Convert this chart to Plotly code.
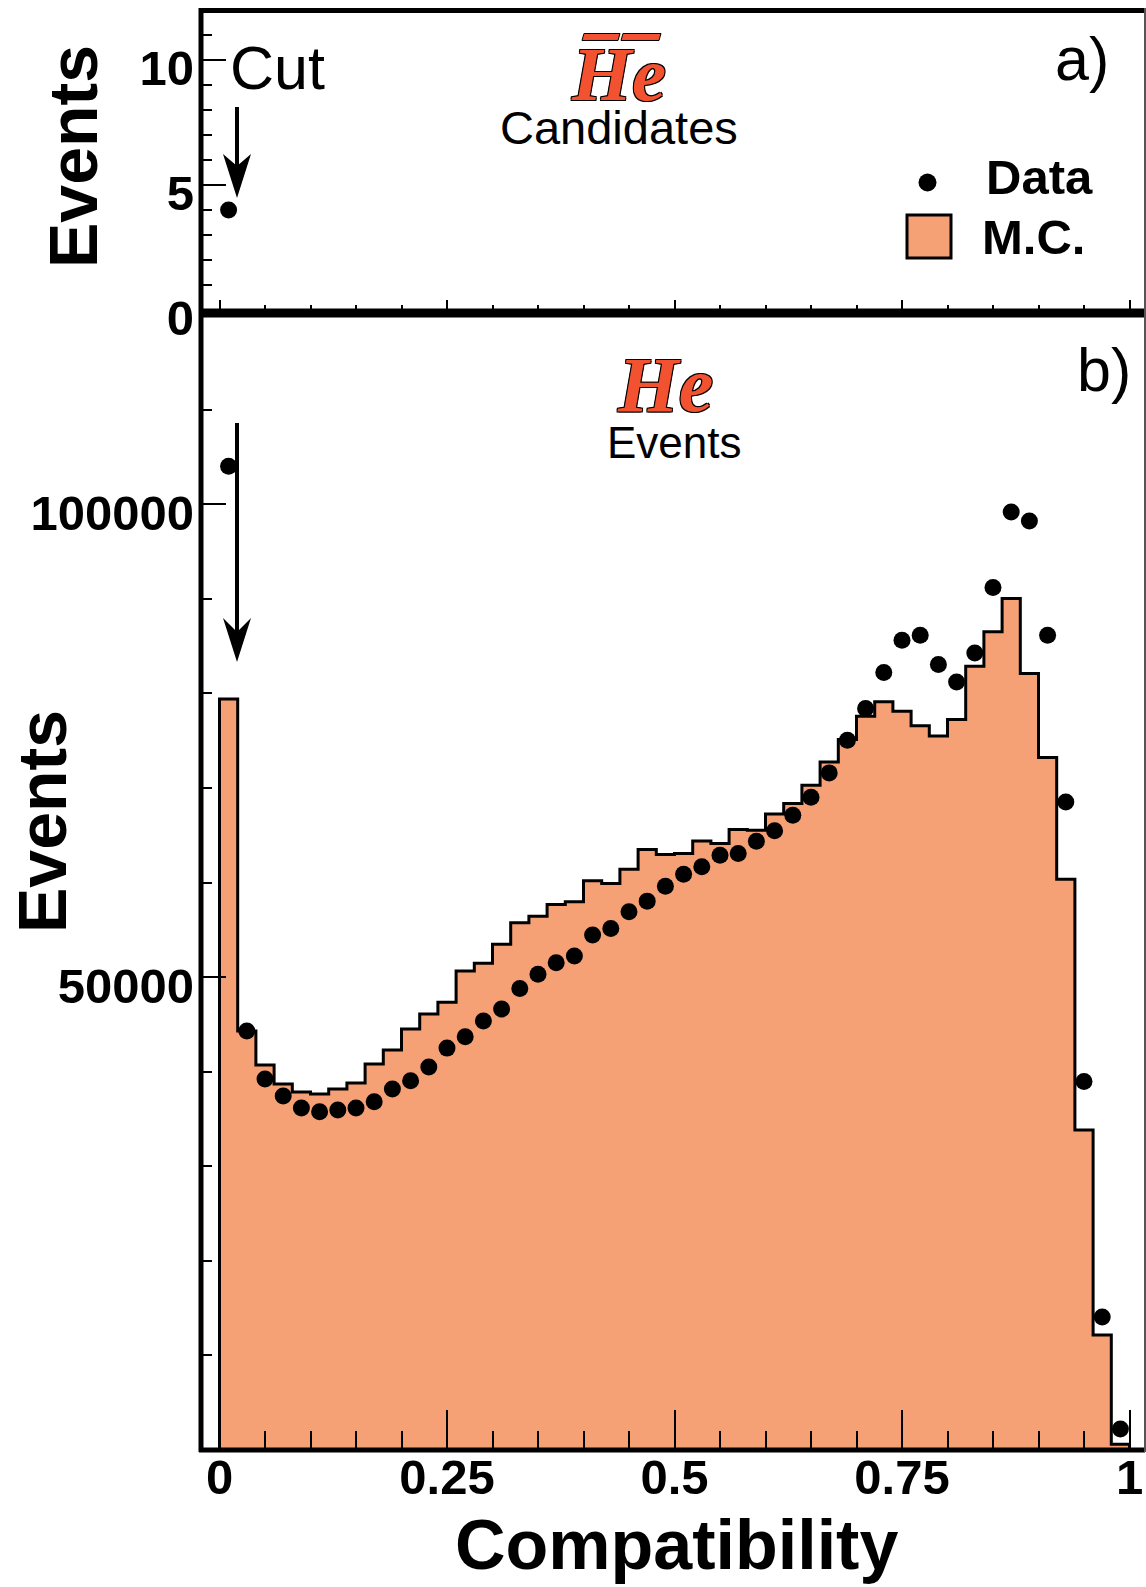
import numpy as np
import plotly.graph_objects as go

# ---------------- data ----------------
bin_width = 0.02
n_bins = 50

data_counts = [104000, 44290, 39215, 37418, 36150, 35760, 35940, 36150, 36815, 38160,
               39035, 40485, 42490, 43685, 45345, 46615, 48800, 50300, 51510, 52220,
               54440, 55140, 56900, 58030, 59610, 60880, 61660, 62890, 63070, 64370,
               65460, 67120, 69020, 71590, 75050, 78400, 82200, 85620, 86150, 83050,
               81210, 84270, 91190, 99180, 98230, 86150, 68500, 38970, 14050, 2220]

mc_counts = [79400, 44290, 40700, 38690, 37840, 37630, 38160, 38790, 40800, 42280,
             44500, 46090, 47350, 50630, 51460, 53480, 55740, 56440, 57680, 57960,
             60180, 59900, 61410, 63490, 62970, 63070, 64400, 64130, 65610, 65530,
             67230, 68360, 70290, 72750, 75120, 77580, 79100, 78110, 76560, 75500,
             77230, 82870, 86500, 90030, 82100, 73220, 60350, 33820, 12160, 600]

cand_x = [0.01]
cand_counts = [4]

x_tick_vals = [0, 0.25, 0.5, 0.75, 1]
x_tick_text = ["0", "0.25", "0.5", "0.75", "1"]
top_y_tick_vals = [0, 5, 10]
top_y_tick_text = ["0", "5", "10"]
bot_y_tick_vals = [50000, 100000]
bot_y_tick_text = ["50000", "100000"]

# ---------------- geometry helpers (pixel -> paper) ----------------
W, H = 1146, 1587
ML, MR, MT, MB = 201, 1, 10, 137
PW, PH = W - ML - MR, H - MT - MB


def pxx(x):
    return (x - ML) / PW


def pxy(y):
    return (H - MB - y) / PH


centers = (np.arange(n_bins) + 0.5) * bin_width
edges = np.arange(n_bins + 1) * bin_width
step_x = [0.0] + list(edges)
step_y = [0] + list(mc_counts) + [0]

SANS = "Liberation Sans, Arial, sans-serif"
SERIF = "Liberation Serif, Times New Roman, serif"
MC_COLOR = "#F6A076"
HE_COLOR = "#F2522F"

fig = go.Figure()

# top panel : antihelium candidates
fig.add_trace(go.Scatter(x=cand_x, y=cand_counts, mode="markers",
                         marker=dict(color="black", size=17),
                         xaxis="x", yaxis="y", showlegend=False))

# bottom panel : MC histogram (filled step) and data points
fig.add_trace(go.Scatter(x=step_x, y=step_y, mode="lines", line_shape="hv",
                         line=dict(color="black", width=3),
                         fill="tozeroy", fillcolor=MC_COLOR,
                         xaxis="x2", yaxis="y2", showlegend=False))
fig.add_trace(go.Scatter(x=centers, y=data_counts, mode="markers",
                         marker=dict(color="black", size=17),
                         xaxis="x2", yaxis="y2", showlegend=False))

xr = [(201 - 219.5) / 910.0, (1145 - 219.5) / 910.0]
tickfont = dict(family=SANS, size=49, color="black", weight="bold")

common_x = dict(range=xr, showgrid=False, zeroline=False, showline=False,
                ticks="inside", tickmode="array", tickvals=x_tick_vals,
                tickcolor="black", tickwidth=2, fixedrange=True)

fig.update_layout(
    width=W, height=H,
    margin=dict(l=ML, r=MR, t=MT, b=MB),
    paper_bgcolor="white", plot_bgcolor="white",
    xaxis=dict(**common_x, anchor="y", domain=[0, 1], ticklen=10,
               showticklabels=False,
               minor=dict(dtick=0.05, tick0=0, ticks="inside", ticklen=5,
                          tickwidth=2, tickcolor="black")),
    yaxis=dict(domain=[pxy(310), 1], range=[0, 12], anchor="x",
               showgrid=False, zeroline=False, showline=False,
               ticks="inside", ticklen=25, tickwidth=2, tickcolor="black",
               tickmode="array", tickvals=top_y_tick_vals, ticktext=top_y_tick_text,
               tickfont=tickfont, ticklabelstandoff=6, ticklabelshift=8,
               minor=dict(dtick=1, tick0=0, ticks="inside", ticklen=11,
                          tickwidth=2, tickcolor="black")),
    xaxis2=dict(**common_x, anchor="y2", domain=[0, 1], ticklen=40,
                ticktext=x_tick_text, tickfont=tickfont, ticklabelstandoff=-6,
                minor=dict(dtick=0.05, tick0=0, ticks="inside", ticklen=19,
                           tickwidth=2, tickcolor="black")),
    yaxis2=dict(domain=[0, pxy(315)], range=[0, 120000], anchor="x2",
                showgrid=False, zeroline=False, showline=False,
                ticks="inside", ticklen=25, tickwidth=2, tickcolor="black",
                tickmode="array", tickvals=bot_y_tick_vals, ticktext=bot_y_tick_text,
                tickfont=tickfont, ticklabelstandoff=6, ticklabelshift=9,
                minor=dict(dtick=10000, tick0=0, ticks="inside", ticklen=11,
                           tickwidth=2, tickcolor="black")),
)

shapes = []


def hline(y, x0, x1, w, color="black"):
    shapes.append(dict(type="line", xref="paper", yref="paper",
                       x0=pxx(x0), x1=pxx(x1), y0=pxy(y), y1=pxy(y),
                       line=dict(color=color, width=w), layer="above"))


def vline(x, y0, y1, w, color="black"):
    shapes.append(dict(type="line", xref="paper", yref="paper",
                       x0=pxx(x), x1=pxx(x), y0=pxy(y0), y1=pxy(y1),
                       line=dict(color=color, width=w), layer="above"))


def poly(points, fill, lw=0, lc="black"):
    path = "M " + " L ".join(f"{pxx(x):.5f},{pxy(y):.5f}" for x, y in points) + " Z"
    shapes.append(dict(type="path", xref="paper", yref="paper", path=path,
                       fillcolor=fill, line=dict(color=lc, width=lw), layer="above"))


# frame
hline(10.5, 199, 1145, 5)
hline(313, 199, 1145, 9)
hline(1450, 199, 1145, 5)
vline(201, 8, 1452, 5)
vline(1145, 8, 1452, 2, "#555555")

# cut arrows
vline(237, 107, 166, 4)
poly([(223, 154), (237, 198), (251, 154), (237, 166)], "black")
vline(237, 423, 634, 4)
poly([(223, 618), (237, 662), (251, 618), (237, 632)], "black")

# overline bars of anti-He
poly([(584, 33.5), (620, 33.5), (618, 40.5), (582, 40.5)], HE_COLOR, 1)
poly([(623, 33.5), (661, 33.5), (659, 40.5), (621, 40.5)], HE_COLOR, 1)

# legend symbols
shapes.append(dict(type="circle", xref="paper", yref="paper",
                   x0=pxx(918.5), x1=pxx(936.5), y0=pxy(191.5), y1=pxy(173.5),
                   fillcolor="black", line=dict(color="black", width=0), layer="above"))
shapes.append(dict(type="rect", xref="paper", yref="paper",
                   x0=pxx(907), x1=pxx(951), y0=pxy(258), y1=pxy(215),
                   fillcolor=MC_COLOR, line=dict(color="black", width=3), layer="above"))

fig.update_layout(shapes=shapes)

annotations = []


def text(s, x, y, size, xanchor="left", weight="normal", family=SANS, color="black",
         angle=0, style="normal", shadow=None):
    f = dict(family=family, size=size, color=color, weight=weight, style=style)
    if shadow:
        f["shadow"] = shadow
    annotations.append(dict(text=s, x=pxx(x), y=pxy(y), xref="paper", yref="paper",
                            xanchor=xanchor, yanchor="middle", showarrow=False,
                            font=f, textangle=angle, borderpad=0))


outline = "-1px -1px 0 #000, 1px -1px 0 #000, -1px 1px 0 #000, 1px 1px 0 #000"

text("Cut", 229, 68, 61)
text("a)", 1054, 59, 61)
text("b)", 1076, 370, 61)
text("He", 618, 74, 77, "center", "bold", SERIF, HE_COLOR, style="italic", shadow=outline)
text("Candidates", 619, 127, 47, "center")
text("He", 665, 385, 78, "center", "bold", SERIF, HE_COLOR, style="italic", shadow=outline)
text("Events", 674, 442, 44, "center")
text("Data", 985, 177, 49, weight="bold")
text("M.C.", 981, 237, 49, weight="bold")
text("Events", 73, 157, 68, "center", "bold", angle=-90)
text("Events", 42, 822, 68, "center", "bold", angle=-90)
text("Compatibility", 676, 1545, 70, "center", "bold")

fig.update_layout(annotations=annotations)

fig.write_html("out.html")
